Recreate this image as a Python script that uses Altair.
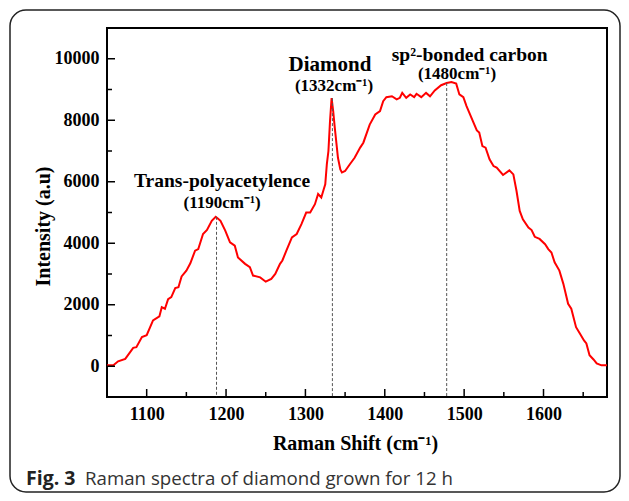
import altair as alt
import pandas as pd

# ---- data ----
shift = [1050, 1058, 1064, 1073, 1083, 1087, 1094, 1100, 1108, 1116, 1119, 1123, 1127, 1131,
         1136, 1140, 1144, 1150, 1155, 1161, 1165, 1171, 1176, 1182, 1187, 1190, 1193, 1199,
         1205, 1211, 1215, 1224, 1230, 1234, 1243, 1250, 1257, 1262, 1268, 1271, 1276, 1283,
         1289, 1295, 1301, 1306, 1312, 1316, 1320, 1323, 1325, 1327, 1329, 1331, 1333, 1335,
         1337, 1341, 1344, 1346, 1350, 1356, 1362, 1369, 1373, 1381, 1388, 1394, 1398, 1402,
         1409, 1415, 1419, 1422, 1427, 1432, 1437, 1440, 1446, 1452, 1457, 1463, 1471, 1478,
         1484, 1490, 1494, 1499, 1503, 1511, 1516, 1519, 1523, 1527, 1532, 1537, 1541, 1549,
         1557, 1562, 1566, 1570, 1574, 1581, 1585, 1589, 1595, 1602, 1606, 1610, 1614, 1620,
         1625, 1631, 1635, 1641, 1646, 1651, 1654, 1658, 1663, 1667, 1673, 1680]
intensity = [30, 30, 160, 240, 600, 620, 950, 1010, 1490, 1620, 1920, 1870, 2180, 2250,
             2540, 2570, 2920, 3110, 3350, 3760, 3810, 4300, 4430, 4730, 4860, 4800, 4730, 4410,
             4030, 3920, 3540, 3330, 3220, 2950, 2890, 2750, 2840, 3000, 3330, 3440, 3760, 4190,
             4300, 4620, 5000, 5000, 5270, 5600, 5490, 5750, 5920, 6570, 7000, 7970, 8720, 8300,
             7760, 6780, 6400, 6300, 6350, 6570, 6780, 7110, 7270, 7860, 8190, 8300, 8620, 8750,
             8780, 8680, 8730, 8890, 8730, 8840, 8750, 8860, 8750, 8890, 8780, 8970, 9140, 9210,
             9240, 9190, 8840, 8750, 8460, 7970, 7670, 7600, 7160, 7110, 6730, 6510, 6460, 6220,
             6370, 6240, 5700, 5050, 4780, 4510, 4430, 4210, 4140, 3970, 3810, 3700, 3380, 3110,
             2680, 2030, 1870, 1270, 1060, 840, 740, 360, 220, 90, 30, 30]

peak_x = [1188, 1334, 1478]
peak_y = [4860, 8720, 9210]

label_text = ["Trans-polyacetylence", "(1190cm\u207b\u00b9)", "Diamond", "(1332cm\u207b\u00b9)",
              "sp\u00b2-bonded carbon", "(1480cm\u207b\u00b9)"]
label_x = [1195, 1195, 1331, 1336, 1507, 1491]
label_y = [6030, 5315, 9790, 9107, 10120, 9500]
label_size = [19.5, 17, 21, 17, 19.5, 17]

x_major = [1100, 1200, 1300, 1400, 1500, 1600]
x_minor = [1150, 1250, 1350, 1450, 1550, 1650]
y_major = [0, 2000, 4000, 6000, 8000, 10000]
y_minor = [1000, 3000, 5000, 7000, 9000]

x_title = "Raman Shift (cm\u207b\u00b9)"
y_title = "Intensity (a.u)"
caption_bold = "Fig. 3"
caption_rest = "Raman spectra of diamond grown for 12 h"

# ---- chart ----
W, H = 500, 369
SERIF = "Liberation Serif"
xs = alt.Scale(domain=[1050, 1680], nice=False, zero=False)
ys = alt.Scale(domain=[-1000, 11000], nice=False, zero=False)

x_axis = alt.Axis(
    values=x_major, title=x_title, ticks=False, domain=False, grid=False,
    labelPadding=8, format="d",
    labelFont=SERIF, labelFontWeight="bold", labelFontSize=18, labelColor="black",
    titleFont=SERIF, titleFontWeight="bold", titleFontSize=20, titleColor="black",
    titleX=248, titleY=46, titleBaseline="middle", titleAlign="center")
y_axis = alt.Axis(
    values=y_major, title=y_title, ticks=False, domain=False, grid=False,
    labelPadding=8, format="d",
    labelFont=SERIF, labelFontWeight="bold", labelFontSize=18, labelColor="black",
    titleFont=SERIF, titleFontWeight="bold", titleFontSize=20, titleColor="black",
    titleX=-64, titleY=198, titleAngle=270, titleBaseline="middle", titleAlign="center")


def X(field):
    return alt.X(field, scale=xs, axis=x_axis, title=x_title)


def Y(field):
    return alt.Y(field, scale=ys, axis=y_axis, title=y_title)


one = pd.DataFrame({"k": [0]})

line = alt.Chart(pd.DataFrame({"shift": shift, "intensity": intensity})).mark_line(
    color="#ff0000", strokeWidth=2
).encode(x=X("shift:Q"), y=Y("intensity:Q"))

dashes = alt.Chart(pd.DataFrame({"px": peak_x, "py": peak_y})).mark_rule(
    color="#555555", strokeWidth=1, strokeDash=[3, 2]
).encode(x=X("px:Q"), y=Y("py:Q"), y2=alt.datum(-1000))

labels = alt.Chart(pd.DataFrame({"t": label_text, "lx": label_x, "ly": label_y, "s": label_size})).mark_text(
    font=SERIF, fontWeight="bold", color="black", align="center", baseline="middle"
).encode(
    x=X("lx:Q"), y=Y("ly:Q"), text="t:N",
    size=alt.Size("s:Q", scale=None, legend=None),
)


def xticks(vals, length):
    return alt.Chart(pd.DataFrame({"v": vals})).mark_rule(color="black", strokeWidth=1.5).encode(
        x=X("v:Q"), y=alt.value(H), y2=alt.value(H - length))


def yticks(vals, length):
    return alt.Chart(pd.DataFrame({"v": vals})).mark_rule(color="black", strokeWidth=1.5).encode(
        y=Y("v:Q"), x=alt.value(0), x2=alt.value(length))


frame = alt.Chart(one).mark_rect(
    fill="transparent", stroke="#222222", strokeWidth=1.5, cornerRadius=16
).encode(x=alt.value(-97), x2=alt.value(513), y=alt.value(-18), y2=alt.value(464))

cap1 = alt.Chart(one).mark_text(
    font="Open Sans", fontSize=19.5, fontWeight="bold", color="#222222", align="left", baseline="middle"
).encode(x=alt.value(-81), y=alt.value(451), text=alt.value(caption_bold))
cap2 = alt.Chart(one).mark_text(
    font="Open Sans", fontSize=18.7, color="#333333", align="left", baseline="middle"
).encode(x=alt.value(-22), y=alt.value(451), text=alt.value(caption_rest))

chart = alt.layer(
    line, dashes, labels,
    xticks(x_major, 8), xticks(x_minor, 5), yticks(y_major, 8), yticks(y_minor, 5),
    frame, cap1, cap2,
).properties(
    width=W, height=H,
    padding={"left": 99, "top": 20, "right": 14, "bottom": 96},
    autosize=alt.AutoSizeParams(type="none"),
    background="white",
).configure_view(
    stroke="black", strokeWidth=2
)

chart.save("out.html", embed_options={"renderer": "svg", "actions": False})
